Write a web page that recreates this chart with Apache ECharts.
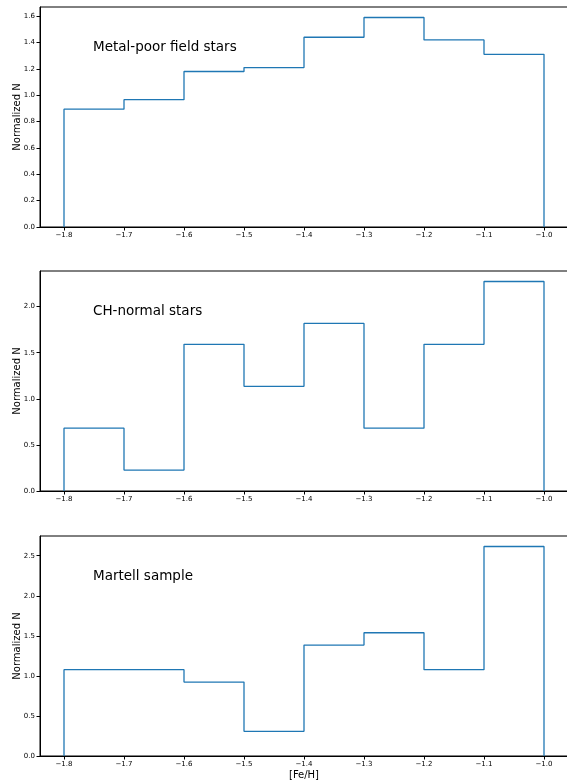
<!DOCTYPE html>
<html>
<head>
<meta charset="utf-8">
<script src="https://cdn.jsdelivr.net/npm/echarts@6/dist/echarts.min.js"></script>
<style>
  html, body { margin: 0; padding: 0; background: #fff; }
  #main { width: 567px; height: 780px; }
</style>
</head>
<body>
<div id="main"></div>
<script>
// bin edges in [Fe/H]
var binEdges = [-1.8, -1.7, -1.6, -1.5, -1.4, -1.3, -1.2, -1.1, -1.0];
var xTicks = [-1.8, -1.7, -1.6, -1.5, -1.4, -1.3, -1.2, -1.1, -1.0];

// normalized counts per bin
var fieldStars = [0.894, 0.966, 1.18, 1.21, 1.44, 1.59, 1.42, 1.31];
var chNormal = [0.682, 0.227, 1.591, 1.136, 1.818, 0.682, 1.591, 2.273];
var martell = [1.077, 1.077, 0.923, 0.308, 1.385, 1.538, 1.077, 2.615];

var titles = ['Metal-poor field stars', 'CH-normal stars', 'Martell sample'];
var yTicks1 = [0, 0.2, 0.4, 0.6, 0.8, 1.0, 1.2, 1.4, 1.6];
var yTicks2 = [0, 0.5, 1.0, 1.5, 2.0];
var yTicks3 = [0, 0.5, 1.0, 1.5, 2.0, 2.5];

var chart = echarts.init(document.getElementById('main'));

// outline of a step histogram from edges and heights
function stepPoints(vals) {
    var pts = [[binEdges[0], 0]];
    for (var i = 0; i < vals.length; i++) {
        pts.push([binEdges[i], vals[i]]);
        pts.push([binEdges[i + 1], vals[i]]);
    }
    pts.push([binEdges[binEdges.length - 1], 0]);
    return pts;
}

function minus(v, d) {
    return v.toFixed(d).replace('-', '\u2212');
}

var panels = [
    { vals: fieldStars, ticks: yTicks1, top: 7 },
    { vals: chNormal, ticks: yTicks2, top: 271 },
    { vals: martell, ticks: yTicks3, top: 536 }
];

var grid = [], xAxis = [], yAxis = [], series = [], title = [];
panels.forEach(function (p, i) {
    var ymax = Math.max.apply(null, p.vals) * 1.05;
    grid.push({
        left: 40, top: p.top, width: 528, height: 220,
        outerBoundsMode: 'none', containLabel: false,
        show: true, borderColor: '#000', borderWidth: 1
    });
    xAxis.push({
        type: 'value', gridIndex: i, min: -1.84, max: -0.96,
        name: i === 2 ? '[Fe/H]' : '',
        nameLocation: 'middle', nameGap: 14, nameMoveOverlap: false,
        nameTextStyle: { fontFamily: 'DejaVu Sans', fontSize: 10, color: '#000' },
        axisLine: { show: true, lineStyle: { color: '#000', width: 1 } },
        axisTick: { show: true, length: 3.5, customValues: xTicks, lineStyle: { color: '#000' } },
        axisLabel: {
            customValues: xTicks, fontFamily: 'DejaVu Sans', fontSize: 7, color: '#000', margin: 5,
            formatter: function (v) { return minus(v, 1); }
        },
        splitLine: { show: false }
    });
    yAxis.push({
        type: 'value', gridIndex: i, min: 0, max: ymax,
        name: 'Normalized N', nameLocation: 'middle', nameGap: 18, nameMoveOverlap: false,
        nameTextStyle: { fontFamily: 'DejaVu Sans', fontSize: 10, color: '#000' },
        axisLine: { show: true, lineStyle: { color: '#000', width: 1 } },
        axisTick: { show: true, length: 3.5, customValues: p.ticks, lineStyle: { color: '#000' } },
        axisLabel: {
            customValues: p.ticks, fontFamily: 'DejaVu Sans', fontSize: 7, color: '#000', margin: 5,
            formatter: function (v) { return v.toFixed(1); }
        },
        splitLine: { show: false }
    });
    series.push({
        type: 'line', xAxisIndex: i, yAxisIndex: i,
        data: stepPoints(p.vals), symbol: 'none', silent: true,
        lineStyle: { color: '#1f77b4', width: 1.3 }
    });
    title.push({
        text: titles[i], left: 93, top: p.top + 33, padding: 0,
        textStyle: { fontFamily: 'DejaVu Sans', fontSize: 13.5, fontWeight: 'normal', color: '#000' }
    });
});

chart.setOption({
    animation: false,
    title: title,
    grid: grid,
    xAxis: xAxis,
    yAxis: yAxis,
    series: series
});
</script>
</body>
</html>
